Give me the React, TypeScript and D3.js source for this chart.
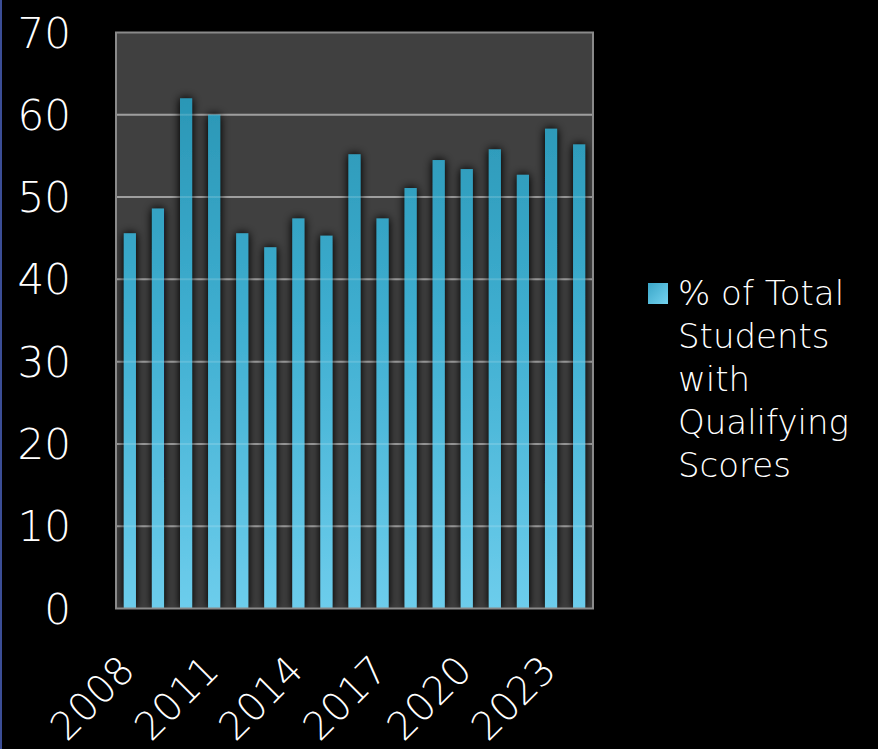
import React from "react";
import * as d3 from "d3";

const years = ["2008","2009","2010","2011","2012","2013","2014","2015","2016","2017","2018","2019","2020","2021","2022","2023","2024"];
const values = [45.6, 48.6, 62.0, 60.0, 45.6, 43.9, 47.4, 45.3, 55.2, 47.4, 51.1, 54.5, 53.4, 55.8, 52.7, 58.3, 56.4];
const shownYears = ["2008","2011","2014","2017","2020","2023"];
const yTicks = [0, 10, 20, 30, 40, 50, 60, 70];
const legendLines = ["% of Total", "Students", "with", "Qualifying", "Scores"];

const W = 878, H = 749;
const plot = { left: 116, top: 32.5, right: 593, bottom: 608.5 };
const FONT = "'DejaVu Sans', sans-serif";

export default function App() {
  const x = d3.scaleBand<string>().domain(years).range([plot.left, plot.right]).paddingInner(0.57).paddingOuter(0.28);
  const y = d3.scaleLinear().domain([0, 70]).range([plot.bottom, plot.top]);
  const bw = x.bandwidth();
  return (
    <svg width={W} height={H} style={{ position: "fixed", left: 0, top: 0, background: "#000" }}>
      <defs>
        <linearGradient id="barGrad" gradientUnits="userSpaceOnUse" x1="0" y1={plot.top} x2="0" y2={plot.bottom}>
          <stop offset="0" stopColor="#2590ae" />
          <stop offset="0.5" stopColor="#3eaed0" />
          <stop offset="1" stopColor="#6dcdec" />
        </linearGradient>
        <linearGradient id="legGrad" x1="0" y1="0" x2="1" y2="1">
          <stop offset="0" stopColor="#3aa6c8" />
          <stop offset="1" stopColor="#74d2ef" />
        </linearGradient>
        <filter id="shadow" x="-100%" y="-10%" width="300%" height="120%">
          <feGaussianBlur in="SourceAlpha" stdDeviation="5" />
          <feComponentTransfer><feFuncA type="linear" slope="1.2" /></feComponentTransfer>
          <feMerge><feMergeNode /><feMergeNode in="SourceGraphic" /></feMerge>
        </filter>
        <clipPath id="plotClip">
          <rect x={plot.left} y={plot.top} width={plot.right - plot.left} height={plot.bottom - plot.top} />
        </clipPath>
      </defs>
      <rect x={0} y={0} width={W} height={H} fill="#000" />
      <rect x={0} y={0} width={2} height={H} fill="#3b4d96" />
      <rect x={plot.left} y={plot.top} width={plot.right - plot.left} height={plot.bottom - plot.top} fill="#404040" />
      {yTicks.filter(t => t > 0 && t < 70).map(t => (
        <line key={t} x1={plot.left} x2={plot.right} y1={y(t)} y2={y(t)} stroke="#8e8e8e" strokeWidth={2} />
      ))}
      <g clipPath="url(#plotClip)">
        <g filter="url(#shadow)">
          {years.map((yr, i) => (
            <rect key={yr} x={x(yr)} y={y(values[i])} width={bw} height={plot.bottom - y(values[i])} fill="url(#barGrad)" />
          ))}
        </g>
      </g>
      {yTicks.filter(t => t > 0 && t < 70).map(t => (
        <line key={"o" + t} x1={plot.left} x2={plot.right} y1={y(t)} y2={y(t)} stroke="#ffffff" strokeOpacity={0.15} strokeWidth={2} />
      ))}
      <rect x={plot.left} y={plot.top} width={plot.right - plot.left} height={plot.bottom - plot.top} fill="none" stroke="#8a8a8a" strokeWidth={2} />
      {yTicks.map(t => (
        <text key={t} x={71} y={y(t)} dy="0.36em" textAnchor="end" fill="#fff" fontFamily={FONT} fontWeight={200} fontSize={42}>{t}</text>
      ))}
      {shownYears.map(yr => {
        const cx = (x(yr) as number) + bw / 2 + 7;
        return (
          <text key={yr} transform={`translate(${cx},${plot.bottom + 64}) rotate(-45)`} textAnchor="end" fill="#fff" fontFamily={FONT} fontWeight={200} fontSize={39}>{yr}</text>
        );
      })}
      <rect x={648} y={283} width={20} height={21} fill="url(#legGrad)" />
      {legendLines.map((l, i) => (
        <text key={l} x={678} y={305 + i * 43} fill="#fff" fontFamily={FONT} fontWeight={200} fontSize={34}>{l}</text>
      ))}
    </svg>
  );
}
